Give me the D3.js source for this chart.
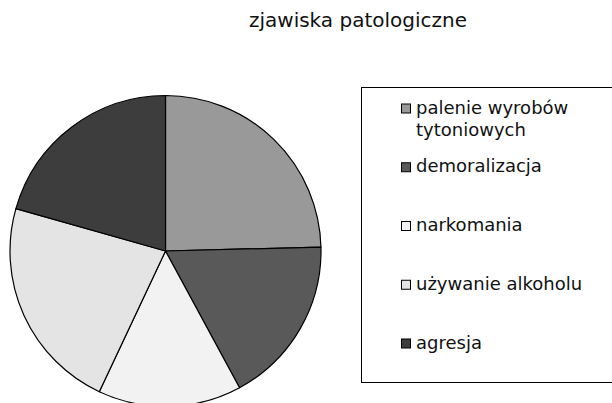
<!DOCTYPE html>
<html lang="pl">
<head>
<meta charset="UTF-8">
<title>zjawiska patologiczne</title>
<script src="https://d3js.org/d3.v7.min.js"></script>
<style>
  body { margin: 0; background: #fff; }
  svg text { font-family: 'DejaVu Sans', Verdana, sans-serif; fill: #111; }
</style>
</head>
<body>
<svg id="chart" width="612" height="403"></svg>
<script>
// data (share of the pie, %)
const categories = ["palenie wyrobów tytoniowych", "demoralizacja", "narkomania", "używanie alkoholu", "agresja"];
const values = [24.6, 17.5, 14.9, 22.4, 20.6];
const colors = ["#999999", "#595959", "#f2f2f2", "#e4e4e4", "#3d3d3d"];
const legendLines = [["palenie wyrobów", "tytoniowych"], ["demoralizacja"], ["narkomania"], ["używanie alkoholu"], ["agresja"]];

const svg = d3.select("#chart");

svg.append("text")
    .attr("x", 358)
    .attr("y", 27)
    .attr("text-anchor", "middle")
    .style("font-size", "20px")
    .text("zjawiska patologiczne");

// pie
const cx = 165.5, cy = 251, r = 155.5;
const pie = d3.pie().sort(null).value(d => d)(values);
const arc = d3.arc().innerRadius(0).outerRadius(r);

const g = svg.append("g").attr("transform", `translate(${cx},${cy})`);
g.selectAll("path")
    .data(pie)
    .join("path")
    .attr("d", arc)
    .attr("fill", (d, i) => colors[i])
    .attr("stroke", "#000")
    .attr("stroke-width", 1.2)
    .attr("stroke-linejoin", "round");

// legend
svg.append("rect")
    .attr("x", 361.5)
    .attr("y", 87.5)
    .attr("width", 270)
    .attr("height", 295)
    .attr("fill", "none")
    .attr("stroke", "#000")
    .attr("stroke-width", 1);

// baseline of each legend row
const rowY = d3.scalePoint().domain(d3.range(categories.length)).range([113.5, 348.5]);

const items = svg.append("g").selectAll("g")
    .data(categories)
    .join("g")
    .attr("transform", (d, i) => `translate(401,${rowY(i)})`);

items.append("rect")
    .attr("x", 0.5)
    .attr("y", -9.5)
    .attr("width", 9)
    .attr("height", 9)
    .attr("fill", (d, i) => colors[i])
    .attr("stroke", "#000")
    .attr("stroke-width", 1);

items.each(function(d, i) {
    const t = d3.select(this).append("text")
        .attr("x", 15)
        .attr("y", 0)
        .style("font-size", "18px");
    legendLines[i].forEach((line, j) => {
        t.append("tspan")
            .attr("x", 15)
            .attr("dy", j === 0 ? 0 : 22)
            .text(line);
    });
});
</script>
</body>
</html>
